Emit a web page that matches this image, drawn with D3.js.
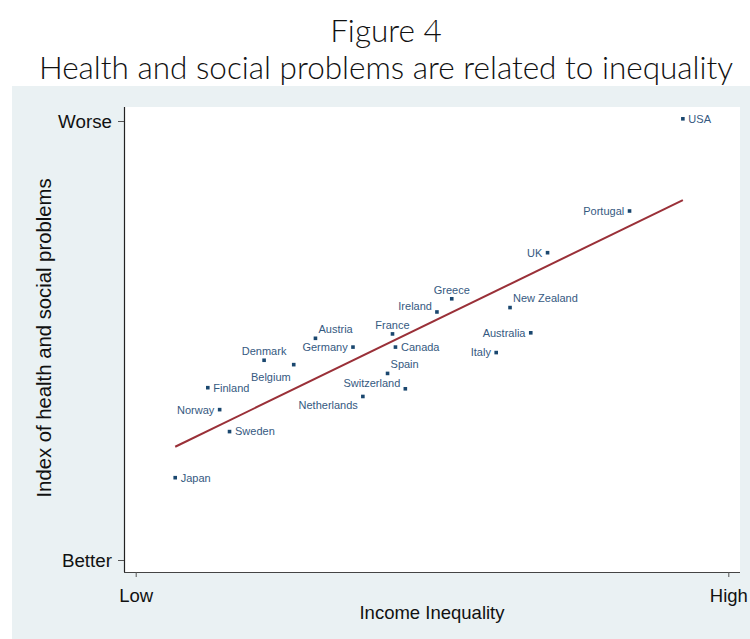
<!DOCTYPE html>
<html>
<head>
<meta charset="utf-8">
<script src="https://cdn.jsdelivr.net/npm/d3@7"></script>
<style>
  html, body { margin: 0; padding: 0; background: #ffffff; }
  svg { display: block; }
</style>
</head>
<body>
<svg id="chart" width="750" height="639"></svg>
<script>
// Countries and their values: income inequality (20:20 ratio) and index of health and social problems
const countries = ["Japan", "Sweden", "Norway", "Finland", "Denmark", "Belgium", "Austria", "Germany",
  "France", "Canada", "Spain", "Switzerland", "Netherlands", "Ireland", "Greece", "New Zealand",
  "Australia", "Italy", "UK", "Portugal", "USA"];
const inequality = [3.40, 3.95, 3.85, 3.73, 4.30, 4.60, 4.82, 5.20,
  5.60, 5.63, 5.55, 5.73, 5.30, 6.05, 6.20, 6.79,
  7.00, 6.65, 7.17, 8.00, 8.54];
const healthIndex = [-0.75, -0.33, -0.13, 0.07, 0.32, 0.28, 0.52, 0.44,
  0.56, 0.44, 0.20, 0.06, -0.01, 0.76, 0.88, 0.80,
  0.57, 0.39, 1.30, 1.68, 2.52];

// Axis ticks
const xTickValues = [3, 9];
const xTickLabels = ["Low", "High"];
const yTickValues = [-1.5, 2.5];
const yTickLabels = ["Better", "Worse"];

// Where each marker label sits, as a clock position around the marker
const labelClock = {
  "Japan": 3, "Sweden": 3, "Norway": 9, "Finland": 3, "Denmark": 12, "Belgium": 7,
  "Austria": 1, "Germany": 9, "France": 12, "Canada": 3, "Spain": 1, "Switzerland": 10,
  "Netherlands": 8, "Ireland": 10, "Greece": 12, "New Zealand": 1, "Australia": 9,
  "Italy": 9, "UK": 9, "Portugal": 9, "USA": 3
};

const points = countries.map((c, i) => ({ name: c, x: inequality[i], y: healthIndex[i] }));

const W = 750, H = 639;
const plot = { left: 124, right: 740, top: 107, bottom: 572 };

const svg = d3.select("#chart");

// Outer graph region
svg.append("rect").attr("x", 12).attr("y", 86).attr("width", W - 12).attr("height", H - 86)
  .attr("fill", "#eaf1f3");
// Plot region
svg.append("rect").attr("x", plot.left).attr("y", plot.top)
  .attr("width", plot.right - plot.left).attr("height", plot.bottom - plot.top)
  .attr("fill", "#ffffff");

const x = d3.scaleLinear().domain([3, 9]).range([135.7, 728.3]);
const y = d3.scaleLinear().domain([-1.5, 2.5]).range([560, 121]);

// Titles
const titleFont = "Lato, 'Open Sans', 'Noto Sans', sans-serif";
svg.append("text").attr("x", 386).attr("y", 42).attr("text-anchor", "middle")
  .attr("font-family", titleFont).attr("font-weight", 300).attr("font-size", 31.5)
  .attr("fill", "#111").text("Figure 4");
svg.append("text").attr("x", 386).attr("y", 79).attr("text-anchor", "middle")
  .attr("font-family", titleFont).attr("font-weight", 300).attr("font-size", 31.5)
  .attr("fill", "#111").text("Health and social problems are related to inequality");

const axisFont = "'Liberation Sans', Arial, sans-serif";

// Axis lines
svg.append("line").attr("x1", plot.left + 0.5).attr("x2", plot.left + 0.5)
  .attr("y1", plot.top).attr("y2", plot.bottom).attr("stroke", "#222").attr("stroke-width", 1.2);
svg.append("line").attr("x1", plot.left).attr("x2", plot.right)
  .attr("y1", plot.bottom + 0.5).attr("y2", plot.bottom + 0.5).attr("stroke", "#444").attr("stroke-width", 1.2);

// Y axis
const yAxis = d3.axisLeft(y).tickValues(yTickValues)
  .tickFormat((d, i) => yTickLabels[i]).tickSize(6).tickSizeOuter(0).tickPadding(6);
const gy = svg.append("g").attr("transform", `translate(${plot.left},0)`).call(yAxis);
gy.select(".domain").remove();
gy.selectAll(".tick line").attr("stroke", "#555");
gy.selectAll(".tick text").attr("font-family", axisFont).attr("font-size", 18.8).attr("fill", "#111");

// X axis
const xAxis = d3.axisBottom(x).tickValues(xTickValues)
  .tickFormat((d, i) => xTickLabels[i]).tickSize(5).tickSizeOuter(0).tickPadding(12);
const gx = svg.append("g").attr("transform", `translate(0,${plot.bottom})`).call(xAxis);
gx.select(".domain").remove();
gx.selectAll(".tick line").attr("stroke", "#555");
gx.selectAll(".tick text").attr("font-family", axisFont).attr("font-size", 18.5).attr("fill", "#111");

// Axis titles
svg.append("text").attr("x", 432).attr("y", 619).attr("text-anchor", "middle")
  .attr("font-family", axisFont).attr("font-size", 18.5).attr("fill", "#111").text("Income Inequality");
svg.append("text").attr("transform", "translate(51,338) rotate(-90)").attr("text-anchor", "middle")
  .attr("font-family", axisFont).attr("font-size", 20.3).attr("fill", "#111")
  .text("Index of health and social problems");

// Linear fit (least squares) across the range of the data
const mx = d3.mean(inequality), my = d3.mean(healthIndex);
const sxy = d3.sum(inequality, (v, i) => (v - mx) * (healthIndex[i] - my));
const sxx = d3.sum(inequality, v => (v - mx) * (v - mx));
const slope = sxy / sxx, intercept = my - slope * mx;
const [xmin, xmax] = d3.extent(inequality);
const fit = [xmin, xmax].map(v => ({ x: v, y: intercept + slope * v }));
svg.append("path").datum(fit)
  .attr("d", d3.line().x(d => x(d.x)).y(d => y(d.y)))
  .attr("fill", "none").attr("stroke", "#9a3038").attr("stroke-width", 2);

// Markers
svg.append("g").selectAll("rect").data(points).join("rect")
  .attr("x", d => x(d.x) - 1.8).attr("y", d => y(d.y) - 1.8)
  .attr("width", 3.6).attr("height", 3.6).attr("fill", "#1a476f");

// Marker labels
const clockOffset = {
  3: { dx: 5.5, dy: 0, anchor: "start" },
  9: { dx: -5.3, dy: 0, anchor: "end" },
  12: { dx: 0, dy: -9, anchor: "middle" },
  1: { dx: 3, dy: -9, anchor: "start" },
  10: { dx: -5, dy: -6, anchor: "end" },
  7: { dx: -3, dy: 12, anchor: "end" },
  8: { dx: -5, dy: 9, anchor: "end" }
};
svg.append("g").selectAll("text").data(points).join("text")
  .each(function (d) {
    const o = clockOffset[labelClock[d.name]];
    d3.select(this)
      .attr("x", x(d.x) + o.dx)
      .attr("y", y(d.y) + o.dy + 3.9)
      .attr("text-anchor", o.anchor);
  })
  .attr("font-family", axisFont).attr("font-size", 11).attr("fill", "#35597f")
  .text(d => d.name);
</script>
</body>
</html>
